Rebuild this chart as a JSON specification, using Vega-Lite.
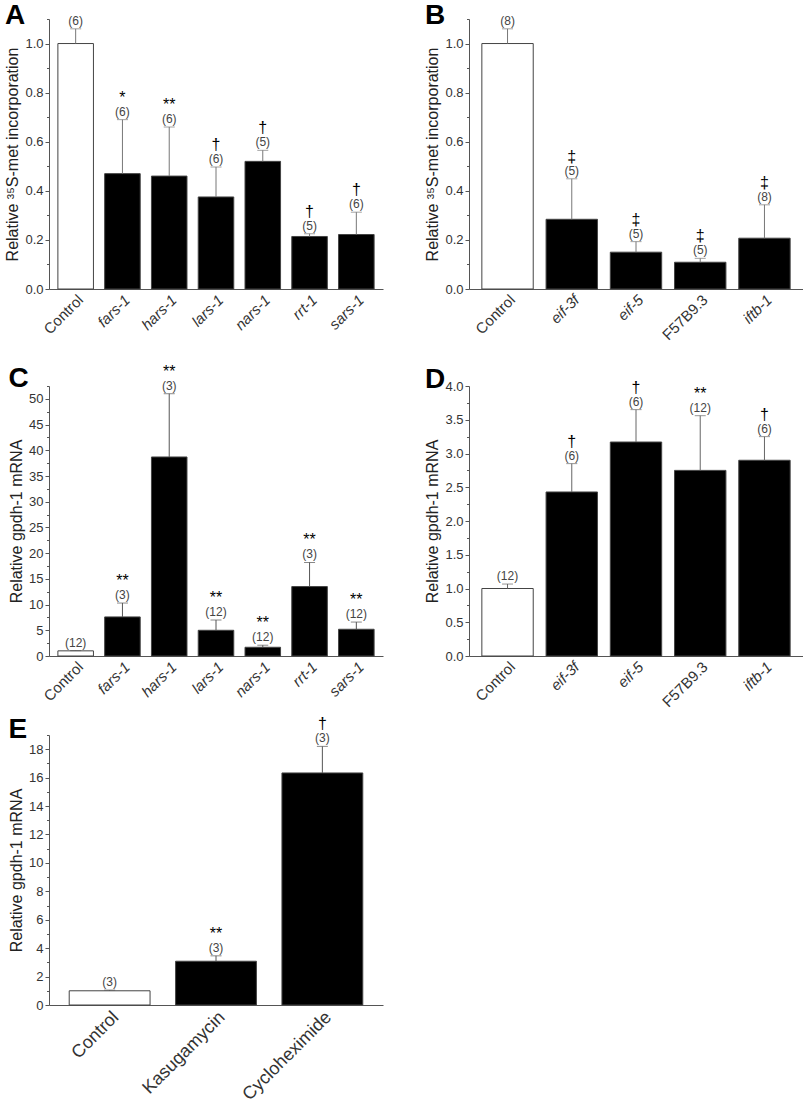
{
  "$schema": "https://vega.github.io/schema/vega-lite/v6.json",
  "padding": {"top": 1, "left": 4, "right": 0, "bottom": 0},
  "spacing": 6,
  "config": {
    "font": "Liberation Sans",
    "view": {"stroke": null},
    "axis": {"domainColor": "#555", "tickColor": "#555", "labelColor": "#333", "titleColor": "#222", "grid": false, "titleFontWeight": "normal", "labelFontSize": 13, "titleFontSize": 16, "labelFont": "Liberation Sans", "titleFont": "Liberation Sans"},
    "title": {"anchor": "start", "fontSize": 28, "fontWeight": "bold", "font": "Liberation Sans", "color": "#000"}
  },
  "datasets": {
    "A": [
      {"g": "Control", "v": 1.0, "e": 1.06, "n": "(6)", "s": ""},
      {"g": "fars-1", "v": 0.47, "e": 0.69, "n": "(6)", "s": "*"},
      {"g": "hars-1", "v": 0.46, "e": 0.66, "n": "(6)", "s": "**"},
      {"g": "lars-1", "v": 0.375, "e": 0.497, "n": "(6)", "s": "†"},
      {"g": "nars-1", "v": 0.52, "e": 0.565, "n": "(5)", "s": "†"},
      {"g": "rrt-1", "v": 0.214, "e": 0.225, "n": "(5)", "s": "†"},
      {"g": "sars-1", "v": 0.222, "e": 0.313, "n": "(6)", "s": "†"}
    ],
    "B": [
      {"g": "Control", "v": 1.0, "e": 1.06, "n": "(8)", "s": ""},
      {"g": "eif-3f", "v": 0.284, "e": 0.449, "n": "(5)", "s": "‡"},
      {"g": "eif-5", "v": 0.15, "e": 0.193, "n": "(5)", "s": "‡"},
      {"g": "F57B9.3", "v": 0.109, "e": 0.125, "n": "(5)", "s": "‡"},
      {"g": "iftb-1", "v": 0.207, "e": 0.343, "n": "(8)", "s": "‡"}
    ],
    "C": [
      {"g": "Control", "v": 1.0, "e": 1.05, "n": "(12)", "s": ""},
      {"g": "fars-1", "v": 7.6, "e": 10.3, "n": "(3)", "s": "**"},
      {"g": "hars-1", "v": 38.7, "e": 51.0, "n": "(3)", "s": "**"},
      {"g": "lars-1", "v": 5.0, "e": 7.0, "n": "(12)", "s": "**"},
      {"g": "nars-1", "v": 1.7, "e": 2.1, "n": "(12)", "s": "**"},
      {"g": "rrt-1", "v": 13.5, "e": 18.2, "n": "(3)", "s": "**"},
      {"g": "sars-1", "v": 5.2, "e": 6.6, "n": "(12)", "s": "**"}
    ],
    "D": [
      {"g": "Control", "v": 1.0, "e": 1.066, "n": "(12)", "s": ""},
      {"g": "eif-3f", "v": 2.43, "e": 2.85, "n": "(6)", "s": "†"},
      {"g": "eif-5", "v": 3.17, "e": 3.65, "n": "(6)", "s": "†"},
      {"g": "F57B9.3", "v": 2.75, "e": 3.56, "n": "(12)", "s": "**"},
      {"g": "iftb-1", "v": 2.9, "e": 3.25, "n": "(6)", "s": "†"}
    ],
    "E": [
      {"g": "Control", "v": 1.0, "e": 1.05, "n": "(3)", "s": ""},
      {"g": "Kasugamycin", "v": 3.08, "e": 3.46, "n": "(3)", "s": "**"},
      {"g": "Cycloheximide", "v": 16.33, "e": 18.2, "n": "(3)", "s": "†"}
    ]
  },
  "vconcat": [
    {
      "spacing": 20,
      "vconcat": [
        {
          "spacing": 41,
          "hconcat": [
            {
              "title": {"text": "A", "offset": -15},
              "width": 334, "height": 270,
              "data": {"name": "A"},
              "encoding": {"x": {"field": "g", "type": "nominal", "sort": null, "scale": {"paddingInner": 0.24, "paddingOuter": 0.19},
                "axis": {"title": null, "ticks": false, "labelAngle": -45, "labelAlign": "right", "labelBaseline": "top", "labelPadding": 3, "labelFontSize": 15,
                  "labelFontStyle": {"condition": {"test": "datum.value === 'Control'", "value": "normal"}, "value": "italic"}}}},
              "layer": [
                {"mark": {"type": "bar", "stroke": "#444", "strokeWidth": 1},
                 "encoding": {"y": {"field": "v", "type": "quantitative", "scale": {"domain": [0, 1.1], "nice": false},
                   "axis": {"values": [0, 0.2, 0.4, 0.6, 0.8, 1.0], "format": ".1f", "tickSize": 4, "title": "Relative ³⁵S-met incorporation"}},
                   "fill": {"condition": {"test": "datum.g === 'Control'", "value": "white"}, "value": "black"}}},
                {"mark": {"type": "rule", "color": "#777"},
                 "encoding": {"y": {"field": "v", "type": "quantitative", "axis": {"orient": "left", "values": [0.1, 0.3, 0.5, 0.7, 0.9, 1.1], "labels": false, "domain": false, "title": null, "tickSize": 2.5}}, "y2": {"field": "e"}}},
                {"mark": {"type": "tick", "color": "#777", "thickness": 1, "size": 11}, "encoding": {"y": {"field": "e", "type": "quantitative", "axis": null}}},
                {"mark": {"type": "text", "fontSize": 12, "color": "#444", "dy": -8}, "encoding": {"y": {"field": "e", "type": "quantitative", "axis": null}, "text": {"field": "n"}}},
                {"transform": [{"filter": "datum.s !== ''"}], "mark": {"type": "text", "fontSize": 16, "color": "#000", "dy": -22}, "encoding": {"y": {"field": "e", "type": "quantitative", "axis": null}, "text": {"field": "s"}}}
              ],
              "resolve": {"axis": {"y": "independent"}}
            },
            {
              "title": {"text": "B", "offset": -15},
              "width": 334, "height": 270,
              "data": {"name": "B"},
              "encoding": {"x": {"field": "g", "type": "nominal", "sort": null, "scale": {"paddingInner": 0.2, "paddingOuter": 0.2},
                "axis": {"title": null, "ticks": false, "labelAngle": -45, "labelAlign": "right", "labelBaseline": "top", "labelPadding": 3, "labelFontSize": 15,
                  "labelFontStyle": {"condition": {"test": "datum.value === 'Control' || datum.value === 'F57B9.3'", "value": "normal"}, "value": "italic"}}}},
              "layer": [
                {"mark": {"type": "bar", "stroke": "#444", "strokeWidth": 1},
                 "encoding": {"y": {"field": "v", "type": "quantitative", "scale": {"domain": [0, 1.1], "nice": false},
                   "axis": {"values": [0, 0.2, 0.4, 0.6, 0.8, 1.0], "format": ".1f", "tickSize": 4, "title": "Relative ³⁵S-met incorporation"}},
                   "fill": {"condition": {"test": "datum.g === 'Control'", "value": "white"}, "value": "black"}}},
                {"mark": {"type": "rule", "color": "#777"},
                 "encoding": {"y": {"field": "v", "type": "quantitative", "axis": {"orient": "left", "values": [0.1, 0.3, 0.5, 0.7, 0.9, 1.1], "labels": false, "domain": false, "title": null, "tickSize": 2.5}}, "y2": {"field": "e"}}},
                {"mark": {"type": "tick", "color": "#777", "thickness": 1, "size": 11}, "encoding": {"y": {"field": "e", "type": "quantitative", "axis": null}}},
                {"mark": {"type": "text", "fontSize": 12, "color": "#444", "dy": -8}, "encoding": {"y": {"field": "e", "type": "quantitative", "axis": null}, "text": {"field": "n"}}},
                {"transform": [{"filter": "datum.s !== ''"}], "mark": {"type": "text", "fontSize": 16, "color": "#000", "dy": -22}, "encoding": {"y": {"field": "e", "type": "quantitative", "axis": null}, "text": {"field": "s"}}}
              ],
              "resolve": {"axis": {"y": "independent"}}
            }
          ]
        },
        {
          "spacing": 41,
          "hconcat": [
            {
              "title": {"text": "C", "offset": -29},
              "width": 334, "height": 270,
              "data": {"name": "C"},
              "encoding": {"x": {"field": "g", "type": "nominal", "sort": null, "scale": {"paddingInner": 0.24, "paddingOuter": 0.19},
                "axis": {"title": null, "ticks": false, "labelAngle": -45, "labelAlign": "right", "labelBaseline": "top", "labelPadding": 3, "labelFontSize": 15,
                  "labelFontStyle": {"condition": {"test": "datum.value === 'Control'", "value": "normal"}, "value": "italic"}}}},
              "layer": [
                {"mark": {"type": "bar", "stroke": "#444", "strokeWidth": 1},
                 "encoding": {"y": {"field": "v", "type": "quantitative", "scale": {"domain": [0, 52.5], "nice": false},
                   "axis": {"values": [0, 5, 10, 15, 20, 25, 30, 35, 40, 45, 50], "tickSize": 4, "title": "Relative gpdh-1 mRNA"}},
                   "fill": {"condition": {"test": "datum.g === 'Control'", "value": "white"}, "value": "black"}}},
                {"mark": {"type": "rule", "color": "#555"},
                 "encoding": {"y": {"field": "v", "type": "quantitative", "axis": {"orient": "left", "values": [2.5, 7.5, 12.5, 17.5, 22.5, 27.5, 32.5, 37.5, 42.5, 47.5, 52.5], "labels": false, "domain": false, "title": null, "tickSize": 2.5}}, "y2": {"field": "e"}}},
                {"mark": {"type": "tick", "color": "#555", "thickness": 1, "size": 11}, "encoding": {"y": {"field": "e", "type": "quantitative", "axis": null}}},
                {"mark": {"type": "text", "fontSize": 12, "color": "#444", "dy": -8}, "encoding": {"y": {"field": "e", "type": "quantitative", "axis": null}, "text": {"field": "n"}}},
                {"transform": [{"filter": "datum.s !== ''"}], "mark": {"type": "text", "fontSize": 16, "color": "#000", "dy": -22}, "encoding": {"y": {"field": "e", "type": "quantitative", "axis": null}, "text": {"field": "s"}}}
              ],
              "resolve": {"axis": {"y": "independent"}}
            },
            {
              "title": {"text": "D", "offset": -14},
              "width": 334, "height": 270,
              "data": {"name": "D"},
              "encoding": {"x": {"field": "g", "type": "nominal", "sort": null, "scale": {"paddingInner": 0.2, "paddingOuter": 0.2},
                "axis": {"title": null, "ticks": false, "labelAngle": -45, "labelAlign": "right", "labelBaseline": "top", "labelPadding": 3, "labelFontSize": 15,
                  "labelFontStyle": {"condition": {"test": "datum.value === 'Control' || datum.value === 'F57B9.3'", "value": "normal"}, "value": "italic"}}}},
              "layer": [
                {"mark": {"type": "bar", "stroke": "#444", "strokeWidth": 1},
                 "encoding": {"y": {"field": "v", "type": "quantitative", "scale": {"domain": [0, 4], "nice": false},
                   "axis": {"values": [0, 0.5, 1, 1.5, 2, 2.5, 3, 3.5, 4], "format": ".1f", "tickSize": 4, "title": "Relative gpdh-1 mRNA"}},
                   "fill": {"condition": {"test": "datum.g === 'Control'", "value": "white"}, "value": "black"}}},
                {"mark": {"type": "rule", "color": "#666"},
                 "encoding": {"y": {"field": "v", "type": "quantitative", "axis": {"orient": "left", "values": [0.25, 0.75, 1.25, 1.75, 2.25, 2.75, 3.25, 3.75], "labels": false, "domain": false, "title": null, "tickSize": 2.5}}, "y2": {"field": "e"}}},
                {"mark": {"type": "tick", "color": "#666", "thickness": 1, "size": 11}, "encoding": {"y": {"field": "e", "type": "quantitative", "axis": null}}},
                {"mark": {"type": "text", "fontSize": 12, "color": "#444", "dy": -8}, "encoding": {"y": {"field": "e", "type": "quantitative", "axis": null}, "text": {"field": "n"}}},
                {"transform": [{"filter": "datum.s !== ''"}], "mark": {"type": "text", "fontSize": 16, "color": "#000", "dy": -22}, "encoding": {"y": {"field": "e", "type": "quantitative", "axis": null}, "text": {"field": "s"}}}
              ],
              "resolve": {"axis": {"y": "independent"}}
            }
          ]
        }
      ]
    },
    {
      "title": {"text": "E", "offset": -28},
      "width": 334, "height": 270,
      "data": {"name": "E"},
      "encoding": {"x": {"field": "g", "type": "nominal", "sort": null, "scale": {"paddingInner": 0.24, "paddingOuter": 0.19},
        "axis": {"title": null, "ticks": false, "labelAngle": -45, "labelAlign": "right", "labelBaseline": "top", "labelPadding": 3, "labelFontSize": 18}}},
      "layer": [
        {"mark": {"type": "bar", "stroke": "#444", "strokeWidth": 1},
         "encoding": {"y": {"field": "v", "type": "quantitative", "scale": {"domain": [0, 19], "nice": false},
           "axis": {"values": [0, 2, 4, 6, 8, 10, 12, 14, 16, 18], "tickSize": 4, "title": "Relative gpdh-1 mRNA"}},
           "fill": {"condition": {"test": "datum.g === 'Control'", "value": "white"}, "value": "black"}}},
        {"mark": {"type": "rule", "color": "#555"},
         "encoding": {"y": {"field": "v", "type": "quantitative", "axis": {"orient": "left", "values": [1, 3, 5, 7, 9, 11, 13, 15, 17, 19], "labels": false, "domain": false, "title": null, "tickSize": 2.5}}, "y2": {"field": "e"}}},
        {"mark": {"type": "tick", "color": "#555", "thickness": 1, "size": 11}, "encoding": {"y": {"field": "e", "type": "quantitative", "axis": null}}},
        {"mark": {"type": "text", "fontSize": 12, "color": "#444", "dy": -8}, "encoding": {"y": {"field": "e", "type": "quantitative", "axis": null}, "text": {"field": "n"}}},
        {"transform": [{"filter": "datum.s !== ''"}], "mark": {"type": "text", "fontSize": 16, "color": "#000", "dy": -22}, "encoding": {"y": {"field": "e", "type": "quantitative", "axis": null}, "text": {"field": "s"}}}
      ],
      "resolve": {"axis": {"y": "independent"}}
    }
  ]
}
